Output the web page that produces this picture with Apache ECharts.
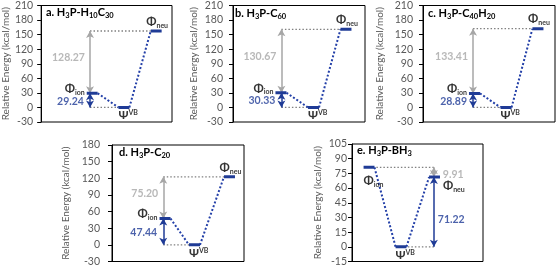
<!DOCTYPE html>
<html><head><meta charset="utf-8">
<script src="https://cdn.jsdelivr.net/npm/echarts@6/dist/echarts.min.js"></script>
<style>html,body{margin:0;padding:0;background:#fff}#c{width:557px;height:267px}</style>
</head><body><div id="c"></div>
<script>
// ---- data ----
const titleParts = [
  ['a. H','3','P-H','10','C','30'],
  ['b. H','3','P-C','60'],
  ['c. H','3','P-C','40','H','20'],
  ['d. H','3','P-C','20'],
  ['e. H','3','P-BH','3']
];
const ionLevel = [29.24, 30.33, 28.89, 47.44, 81.13];
const vbLevel  = [0, 0, 0, 0, 0];
const neuLevel = [157.51, 161.00, 162.30, 122.64, 71.22];
const blueGapLabel = ['29.24', '30.33', '28.89', '47.44', '71.22'];
const grayGapLabel = ['128.27', '130.67', '133.41', '75.20', '9.91'];
const yMin  = [-30, -30, -30, -30, -15];
const yMax  = [210, 210, 210, 180, 105];
const yStep = [30, 30, 30, 30, 15];
const yName = 'Relative Energy (kcal/mol)';
// level column positions (x units 0..12)
const ionX = [4.68, 4.36, 4.68, 4.82, 1.56];
const vbX  = [7.59, 7.32, 7.55, 7.50, 4.49];
const neuX = [10.55, 10.27, 10.45, 10.68, 7.56];
const arrowX = [4.48, 4.40, 4.55, 4.66, 7.50];

// ---- style / layout ----
const F = 'Lato, "Liberation Sans", sans-serif';
const BLUE = '#1F3B96', GRAY_T = '#A6A6A6', GRAY_D = '#808080', AX = '#595959';
const grids = [
  {left:40,  top:5,   width:132, height:117},
  {left:233, top:5,   width:132, height:117},
  {left:423, top:5,   width:132, height:117},
  {left:112, top:145, width:132, height:117},
  {left:352, top:144, width:131, height:118}
];
const nameGaps = [28, 34, 38, 41, 29];
const labelMargins = [8, 10, 10, 12, 5];
const titlePos = [[46,7],[235,8],[428,8],[119,147],[357,145]];
const HW = 0.5;

const richSym = {
  p:   {fontFamily:F, fontSize:12, fontWeight:'bold', color:'#000', lineHeight:14, padding:[0,0,2,0], verticalAlign:'bottom'},
  s:   {fontFamily:F, fontSize:7,  fontWeight:'bold', color:'#000', lineHeight:8, verticalAlign:'bottom'},
  q:   {fontFamily:F, fontSize:12, fontWeight:'bold', color:'#000', lineHeight:14, verticalAlign:'top'},
  sup: {fontFamily:F, fontSize:7,  fontWeight:'bold', color:'#000', lineHeight:8, verticalAlign:'top'}
};

const option = {animation:false, grid:[], xAxis:[], yAxis:[], series:[], title:[]};

for (let i = 0; i < 5; i++) {
  option.grid.push(Object.assign({show:true, borderColor:'#000', borderWidth:1, backgroundColor:'#fff'}, grids[i]));
  option.xAxis.push({type:'value', gridIndex:i, min:0, max:12, show:false});
  option.yAxis.push({
    type:'value', gridIndex:i, min:yMin[i], max:yMax[i], interval:yStep[i],
    name:yName, nameLocation:'middle', nameGap:nameGaps[i],
    nameTextStyle:{fontFamily:F, fontSize:10, color:AX},
    axisLine:{show:true, lineStyle:{color:'#000', width:1}},
    axisTick:{show:true, length:4, lineStyle:{color:'#000'}},
    axisLabel:{fontFamily:F, fontSize:10.5, color:AX, margin:labelMargins[i]},
    splitLine:{show:false}
  });
  // title
  const parts = titleParts[i];
  let txt = '';
  parts.forEach((p, k) => { txt += k % 2 === 0 ? '{t|' + p + '}' : '{ts|' + p + '}'; });
  option.title.push({
    text: txt, left: titlePos[i][0], top: titlePos[i][1], padding:0,
    textStyle:{rich:{
      t:{fontFamily:F, fontSize:11, fontWeight:'bold', color:'#000', lineHeight:13, padding:[0,0,2,0], verticalAlign:'bottom'},
      ts:{fontFamily:F, fontSize:7.5, fontWeight:'bold', color:'#000', lineHeight:8, verticalAlign:'bottom'}
    }}
  });

  const seg = (pts, style, z) => ({type:'line', xAxisIndex:i, yAxisIndex:i, data:pts, symbol:'none',
    lineStyle:style, silent:true, z:z});
  const levelStyle = {color:BLUE, width:3};
  const blueDot = {color:'#2440A8', width:2, type:[2,2]};
  const grayDot = {color:GRAY_D, width:1.3, type:[1.5,2]};

  const lower = Math.min(ionLevel[i], neuLevel[i]);
  const upper = Math.max(ionLevel[i], neuLevel[i]);
  const topBarX = ionLevel[i] > neuLevel[i] ? ionX[i] : neuX[i];
  const edge = bx => bx < arrowX[i] ? bx + HW : bx - HW;

  // gray guides
  option.series.push(seg([[arrowX[i], upper], [edge(topBarX), upper]], grayDot, 2));
  option.series.push(seg([[arrowX[i], vbLevel[i]], [edge(vbX[i]), vbLevel[i]]], grayDot, 2));
  // blue connectors
  option.series.push(seg([[ionX[i]+HW, ionLevel[i]], [vbX[i]-HW, vbLevel[i]]], blueDot, 3));
  option.series.push(seg([[vbX[i]+HW, vbLevel[i]], [neuX[i]-HW, neuLevel[i]]], blueDot, 3));
  // levels
  option.series.push(seg([[ionX[i]-HW, ionLevel[i]], [ionX[i]+HW, ionLevel[i]]], levelStyle, 5));
  option.series.push(seg([[neuX[i]-HW, neuLevel[i]], [neuX[i]+HW, neuLevel[i]]], levelStyle, 5));
  const vbSeries = seg([[vbX[i]-HW, vbLevel[i]], [vbX[i]+HW, vbLevel[i]]], levelStyle, 5);
  vbSeries.markLine = {
    silent:true, symbol:['arrow','arrow'], symbolSize:[6,7], label:{show:false},
    data:[
      [{coord:[arrowX[i], vbLevel[i]], lineStyle:{color:BLUE, width:1.5, type:'solid'}, itemStyle:{color:BLUE}}, {coord:[arrowX[i], lower]}],
      [{coord:[arrowX[i], lower], lineStyle:{color:GRAY_T, width:1.5, type:'solid'}, itemStyle:{color:GRAY_T}}, {coord:[arrowX[i], upper]}]
    ]
  };
  option.series.push(vbSeries);

  // labels
  const isE = ionLevel[i] > neuLevel[i];
  const lab = (x, y, fmt, align, vAlign, offset, extra) => ({
    value:[x, y],
    label:Object.assign({show:true, position:[0,0], formatter:fmt, align:align, verticalAlign:vAlign, offset:offset, rich:richSym}, extra || {})
  });
  const valStyle = (c) => ({fontFamily:F, fontSize:10.5, fontWeight:'bold', color:c});
  const labels = [];
  if (!isE) {
    labels.push(lab(ionX[i]-HW, ionLevel[i], '{p|Φ}{s|ion}', 'right', 'middle', [-2,-4]));
    labels.push(lab(neuX[i], neuLevel[i], '{p|Φ}{s|neu}', 'center', 'middle', [1,-9]));
    labels.push(lab(arrowX[i], lower/2, blueGapLabel[i], 'right', 'middle', [-6,1], valStyle(BLUE)));
    labels.push(lab(arrowX[i], (lower+upper)/2, grayGapLabel[i], 'right', 'middle', [-5,-4], valStyle(GRAY_T)));
  } else {
    labels.push(lab(ionX[i]-HW, ionLevel[i], '{p|Φ}{s|ion}', 'left', 'middle', [0,14]));
    labels.push(lab(neuX[i]+HW, neuLevel[i], '{p|Φ}{s|neu}', 'left', 'middle', [3,9]));
    labels.push(lab(arrowX[i], lower/2, blueGapLabel[i], 'left', 'middle', [4,8], valStyle(BLUE)));
    labels.push(lab(arrowX[i], (lower+upper)/2, grayGapLabel[i], 'left', 'middle', [9,2], valStyle(GRAY_T)));
  }
  labels.push(lab(vbX[i]-HW, vbLevel[i], '{q|Ψ}{sup|VB}', 'left', 'middle', [0,9]));
  option.series.push({type:'scatter', xAxisIndex:i, yAxisIndex:i, symbolSize:0.1,
    itemStyle:{color:'rgba(0,0,0,0)'}, silent:true, z:10, data:labels});
}

const chart = echarts.init(document.getElementById('c'), null, {renderer:'canvas'});
chart.setOption(option);
</script>
</body></html>
